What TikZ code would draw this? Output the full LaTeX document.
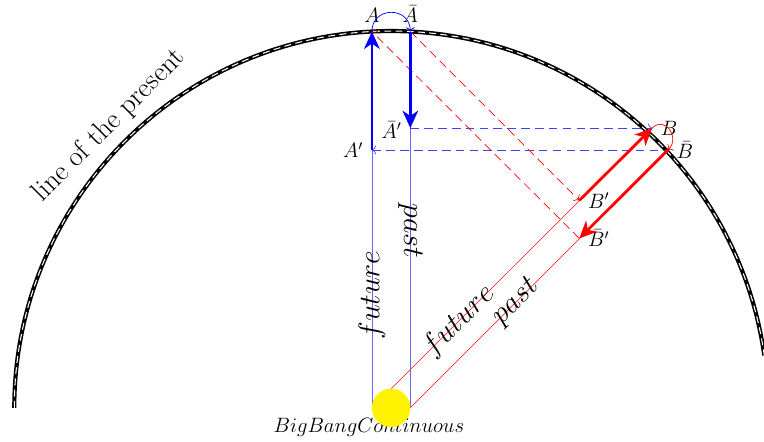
\documentclass[tikz,border=0pt]{standalone}
\usepackage{tikz}
\usetikzlibrary{arrows.meta}
\tikzset{
  presentline/.style={line width=2.4pt,postaction={draw,white,line width=0.6pt,dash pattern=on 4pt off 2.5pt}},
  bigtext/.style={font=\fontsize{16.5}{20}\selectfont},
  worldA/.style={blue!60,text=black},
  worldB/.style={red!80,text=black},
  signalA/.style={draw=blue!75,dash pattern=on 5pt off 3pt},
  signalB/.style={draw=red,dash pattern=on 5pt off 3pt},
  propA/.style={blue,ultra thick,-{Stealth[length=10pt,width=9pt,inset=3pt]}},
  propB/.style={red,ultra thick,-{Stealth[length=10pt,width=9pt,inset=3pt]}},
  every label/.style={label distance=1.5pt,font=\fontsize{11.5}{13}\selectfont}
}

\begin{document}
\begin{tikzpicture}
  \useasboundingbox (-7.94,-0.69) rectangle (7.57,8.28);
  % sun and the points
  \coordinate (O) at (0,0);
  \coordinate (Sl) at (-0.39,0);
  \coordinate (Sr) at (0.39,0);
  \coordinate (St) at (0,0.39);
  \coordinate[label={above:$A$}] (A) at (-0.39,7.64);
  \coordinate[label={above:$\bar{A}$}] (Abar) at (0.39,7.64);
  \coordinate[label={left:$A'$}] (Ap) at (-0.39,5.235);
  \coordinate[label={[yshift=-1pt]left:$\bar{A}'$}] (Abp) at (0.39,5.68);
  \coordinate[label={right:$B$}] (B) at (5.30,5.68);
  \coordinate[label={right:$\bar{B}$}] (Bb) at (5.62,5.235);
  \coordinate[label={right:$B'$}] (Bp) at (3.82,4.21);
  \coordinate[label={right:$\bar{B}'$}] (Bbp) at (3.82,3.44);

  % line of the present
  \draw[presentline] (180:7.65) arc (180:8:7.65);
  \node[rotate=45,font=\fontsize{16.3}{20}\selectfont] (present) at (135:8.1) {line of the present};

  % world lines
  \draw[worldA] (Sl) -- node[pos=.3,sloped,bigtext] (futA) {$future$} (A);
  \draw[worldA] (Abar) -- node[pos=.53,sloped,bigtext] (pastA) {$past$} (Sr);
  \draw[worldB] (St) -- node[pos=.26,sloped,bigtext] (futB) {$future$} (B);
  \draw[worldB] (Sr) -- node[pos=.41,sloped,bigtext] (pastB) {$past$} (Bb);

  % signals
  \draw[signalA,<-] (Ap) -- (Bb);
  \draw[signalA,->] (Abp) -- (B);
  \draw[signalB,->] (Abar) -- (Bp);
  \draw[signalB,->] (Bbp) -- (A);

  % proper time
  \draw[propA] (Ap) -- (A);
  \draw[propA] (Abar) -- (Abp);
  \draw[propB] (Bp) -- (B);
  \draw[propB] (Bb) -- (Bbp);

  \draw[blue,->] (A) to[out=90,in=90,looseness=1.7] (Abar);
  \draw[red,->] (B) to[out=45,in=45,looseness=1.7] (Bb);

  \node[font=\fontsize{12.9}{15}\selectfont] (bang) at (-0.45,-0.39) {$BigBangContinuous$};
  \fill[yellow] (O) circle (0.39);
\end{tikzpicture}
\end{document}
